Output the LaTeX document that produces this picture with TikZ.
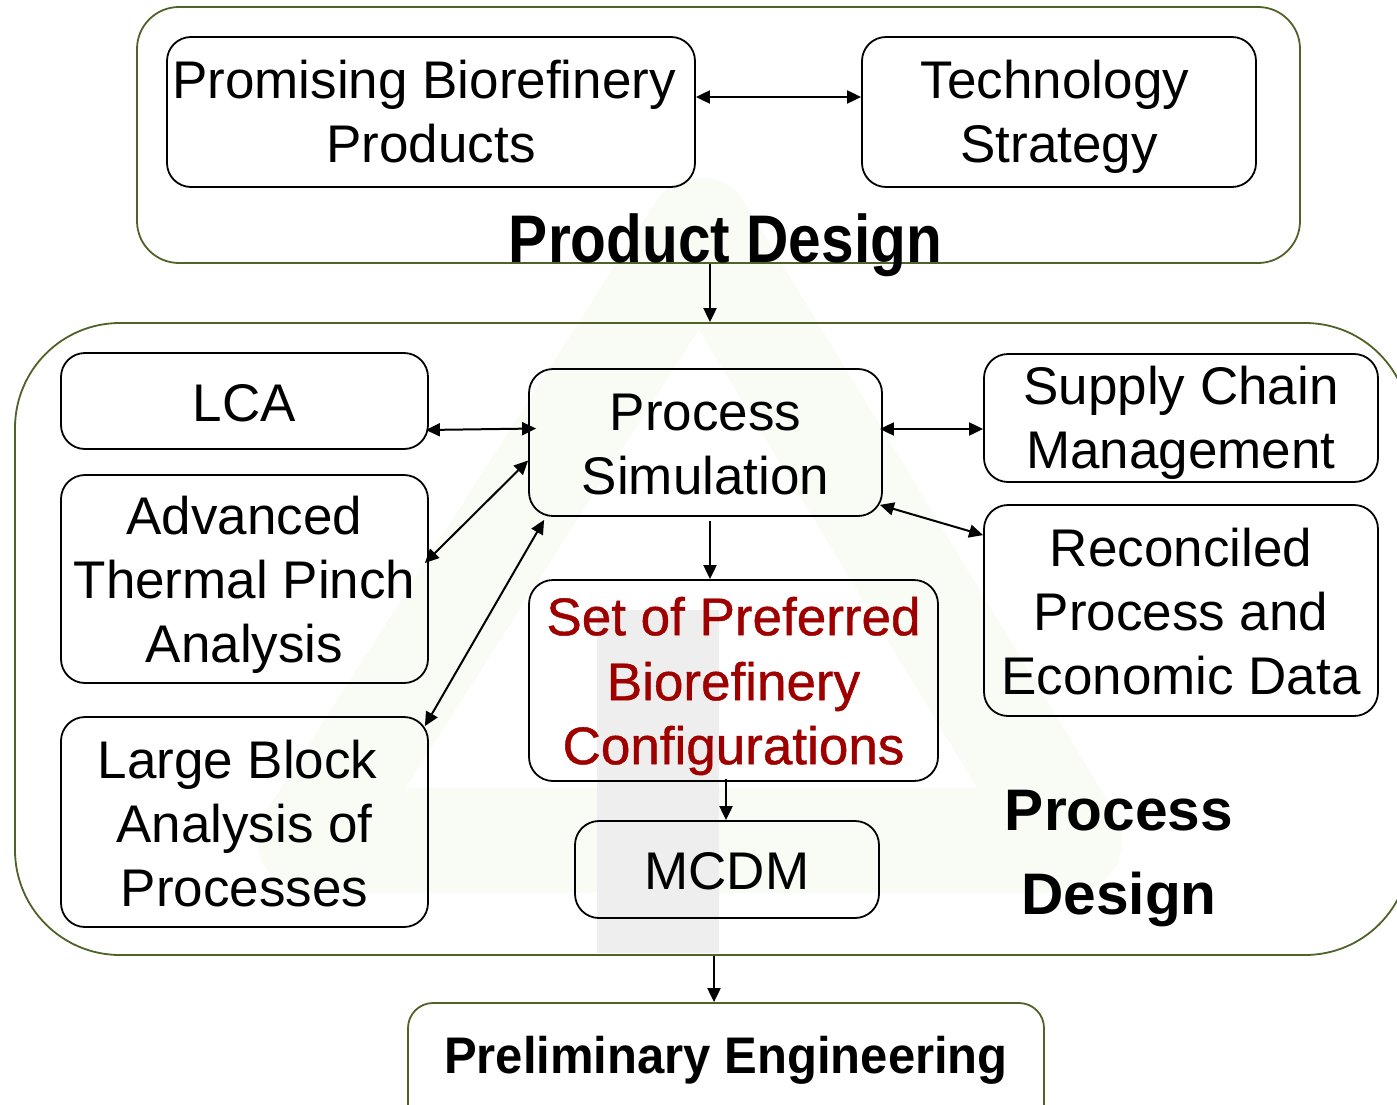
\documentclass[tikz,border=0pt]{standalone}
\usepackage{fontspec}
\setmainfont{Liberation Sans}
\newfontfamily\heavysans[FakeBold=0.8]{Liberation Sans}
\usetikzlibrary{arrows.meta,calc}
\definecolor{frameolive}{RGB}{79,98,40}
\definecolor{cfgred}{RGB}{158,0,0}
\definecolor{wmgreen}{RGB}{249,251,245}
\definecolor{wmgrey}{RGB}{238,238,238}
\newcommand\boxfont{\fontsize{53}{64}\selectfont}
\newcommand\headfont{\fontsize{58.6}{84}\selectfont\bfseries}
\newcommand\engfont{\fontsize{49}{60}\selectfont\bfseries}
% lower a line of text without changing the space it takes
\newcommand\dropby[2]{\raisebox{-#1}[\height][\depth]{#2}}
\begin{document}
\begin{tikzpicture}[x=1pt,y=-1pt,
  box/.style={draw=black, line width=1.8pt, rounded corners=24pt, inner sep=0pt,
    align=center, font=\boxfont},
  frame/.style={draw=frameolive, line width=1.8pt, inner sep=0pt},
  tip/.tip={Triangle[length=14pt,width=13pt]},
  arr/.style={line width=2pt, -tip},
  biarr/.style={line width=2pt, tip-tip}]
\useasboundingbox (0,0) rectangle (1397,1105);

% faint logo behind the chart
\draw[wmgreen, line width=105pt, line join=round] (700,230) -- (1070,840) -- (310,840) -- cycle;
\fill[wmgrey] (597,610) rectangle (719,953);

% design stages
\node[frame, rounded corners=42pt, minimum width=1163pt, minimum height=256pt] (prod) at (718.5,135) {};
\node[frame, rounded corners=105pt, minimum width=1395pt, minimum height=632pt] (procd) at (712.5,639) {};
\node[frame, rounded corners=25pt, minimum width=636pt, minimum height=157pt] (pe) at (726,1081.5) {};

\node[font=\headfont, anchor=base] (prodlbl) at (725.5,262) {\scalebox{1}[1.15]{Product Design}};
\node[font=\headfont, align=center] (procdlbl) at (1119,859) {Process\\Design};
\node[font=\engfont, anchor=base] (pelbl) at (726,1073) {\scalebox{1}[1.05]{Preliminary Engineering}};

% product design boxes
\node[box, minimum width=528pt, minimum height=150pt] (pbp) at (431,112) {Promising Biorefinery\hspace*{14pt}\\Products};
\node[box, minimum width=394pt, minimum height=150pt] (ts) at (1059,112) {\dropby{5pt}{Technology}\hspace*{8pt}\\\dropby{5pt}{Strategy}};

% process design boxes
\node[box, minimum width=367pt, minimum height=96pt] (lca) at (244.5,401) {\dropby{2pt}{LCA}};
\node[box, minimum width=367pt, minimum height=208pt] (atpa) at (244.5,579) {\dropby{6pt}{Advanced}\\\dropby{6pt}{Thermal Pinch}\\\dropby{6pt}{Analysis}};
\node[box, minimum width=367pt, minimum height=210pt] (lbap) at (244.5,822) {\dropby{2pt}{Large Block}\hspace*{14pt}\\\dropby{2pt}{Analysis of}\hspace*{12pt}\\\dropby{2pt}{Processes}};
\node[box, minimum width=353pt, minimum height=147pt] (ps) at (705.5,442.5) {\dropby{2pt}{Process}\\\dropby{2pt}{Simulation}};
\node[box, minimum width=394pt, minimum height=128pt] (scm) at (1181,418) {\dropby{5pt}{Supply Chain}\\\dropby{5pt}{Management}};
\node[box, minimum width=394pt, minimum height=211pt] (rped) at (1181,610.5) {\dropby{1pt}{Reconciled}\\\dropby{1pt}{Process and}\\\dropby{1pt}{Economic Data}};
\node[box, minimum width=409pt, minimum height=201pt, text=cfgred, font=\boxfont\heavysans] (set) at (733.5,680.5) {\dropby{5pt}{Set of Preferred}\\\dropby{6pt}{Biorefinery}\\\dropby{6pt}{Configurations}};
\node[box, minimum width=304pt, minimum height=97pt] (mcdm) at (727,869.5) {\dropby{2pt}{MCDM}};

% connectors
\draw[biarr] ($(pbp.east)+(0,-15)$) -- ($(ts.west)+(0,-15)$);

\coordinate (a1) at ($(prod.south)+(-8.5,0)$);
\draw[arr] (a1) -- (a1 |- procd.north);

\draw[biarr] ($(lca.east)+(-3,29)$) -- ($(ps.west)+(8,-14)$);
\draw[biarr] ($(atpa.east)+(-4,-16)$) -- ($(ps.west)+(0,18)$);
\draw[biarr] ($(lbap.north east)+(-4,10)$) -- ($(ps.south west)+(16,3)$);
\draw[biarr] ($(ps.east)+(-3,-13.5)$) -- ($(scm.west)+(0,11)$);
\draw[biarr] ($(ps.south east)+(-3,-12)$) -- ($(rped.north west)+(0,31)$);

\coordinate (a2) at ($(ps.south)+(4.5,4)$);
\draw[arr] (a2) -- (a2 |- set.north);
\coordinate (a3) at ($(set.south)+(-7.5,-3)$);
\draw[arr] (a3) -- (a3 |- mcdm.north);
\coordinate (a4) at ($(procd.south)+(1.5,0)$);
\draw[arr] (a4) -- (a4 |- pe.north);
\end{tikzpicture}
\end{document}
